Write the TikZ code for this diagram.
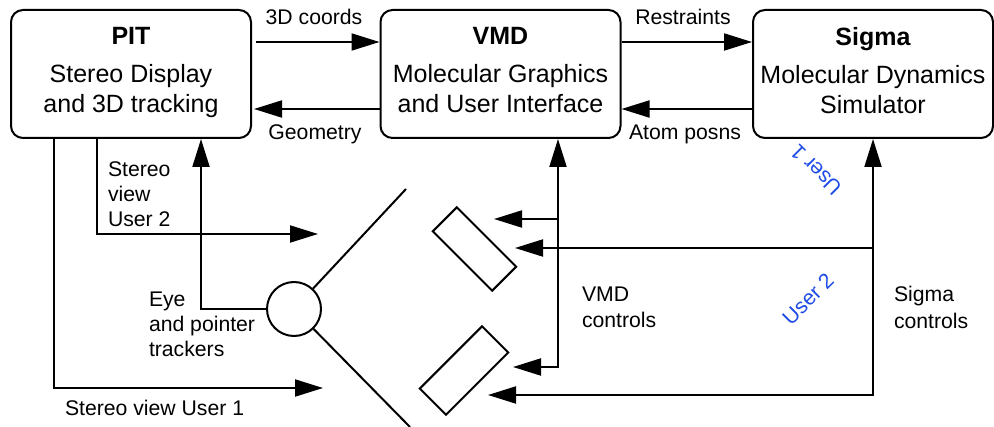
\documentclass[tikz,border=0pt]{standalone}
\usepackage{fontspec}
\setmainfont{Liberation Sans}
\usetikzlibrary{arrows.meta}
\definecolor{userblue}{RGB}{30,75,230}

\begin{document}
\begin{tikzpicture}[x=0.5pt,y=-0.5pt,line width=1pt,
		blk/.style={draw,rounded corners=6pt,minimum width=120pt,minimum height=64pt,inner sep=0pt},
		blktxt/.style={anchor=north,inner sep=0pt,align=center,font=\fontsize{12.5}{15}\selectfont},
		lbl/.style={inner sep=0pt,font=\fontsize{10.6}{12.5}\selectfont},
		usr/.style={inner sep=0pt,text=userblue,font=\fontsize{10.6}{12.5}\selectfont},
		scr/.style={draw,minimum width=42pt,minimum height=17pt,inner sep=0pt},
		arr/.style={-{Triangle[length=14pt,width=8.5pt]}},
		darr/.style={{Triangle[length=14pt,width=8.5pt]}-{Triangle[length=14pt,width=8.5pt]}}]
		\useasboundingbox (0,0) rectangle (994,427);
		
		% 三个模块
		\node[blk] (PIT) at(131,74){};
		\node[blk] (VMD) at(500.5,74){};
		\node[blk] (Sigma) at(873,74){};
		\node[blktxt] (PITtxt) at(131,26){\textbf{PIT}\\[4pt]Stereo Display\\and 3D tracking};
		\node[blktxt] (VMDtxt) at(500.5,26){\textbf{VMD}\\[4pt]Molecular Graphics\\and User Interface};
		\node[blktxt] (Sigmatxt) at(873,26){\textbf{Sigma}\\[4pt]Molecular Dynamics\\Simulator};
		
		% 模块之间的数据
		\draw[arr] ([yshift=16pt,xshift=2pt]PIT.east)--([yshift=16pt]VMD.west);
		\draw[arr] ([yshift=-17.5pt]VMD.west)--([yshift=-17.5pt,xshift=1pt]PIT.east);
		\draw[arr] ([yshift=16pt]VMD.east)--([yshift=16pt]Sigma.west);
		\draw[arr] ([yshift=-17.5pt]Sigma.west)--([yshift=-17.5pt]VMD.east);
		\node[lbl,anchor=base] (lbcoord) at(314,25){3D coords};
		\node[lbl,anchor=base] (lbgeom) at(315,140){Geometry};
		\node[lbl,anchor=base] (lbrest) at(683,25){Restraints};
		\node[lbl,anchor=base] (lbatom) at(685,139.5){Atom posns};
		
		% 跟踪器, 镜面, 两个屏幕
		\node[draw,circle,minimum size=27pt,inner sep=0pt] (eye) at(294,309){};
		\coordinate (mA) at(406,189);
		\coordinate (mB) at(410,427);
		\draw (eye)--(mA);
		\draw (eye)--(mB);
		\node[scr,rotate=-45] (scrA) at(474.5,249){};
		\node[scr,rotate=45,minimum width=44pt,minimum height=18.5pt] (scrB) at(464,370.5){};
		
		% 箭头的自由端
		\coordinate (tS2) at(318,234);
		\coordinate (tS1) at(323,388);
		\coordinate (tA1) at(494,219);
		\coordinate (tA2) at(515,248);
		\coordinate (tB1) at(513,367);
		\coordinate (tB2) at(488,395);
		\coordinate (vc) at([xshift=28.75pt]VMD.south);
		
		% PIT 的输出与输入
		\draw[arr] ([xshift=-38.5pt]PIT.south) |- (tS1);
		\draw[arr] ([xshift=-17pt]PIT.south) |- (tS2);
		\draw[arr] (eye) -| ([xshift=35pt]PIT.south);
		
		% VMD 与 Sigma 的控制
		\draw[darr] (tB1) -| (vc);
		\draw[arr] (vc |- tA1)--(tA1);
		\draw[darr] (tB2) -| (Sigma.south);
		\draw[arr] (Sigma.south |- tA2)--(tA2);
		
		% 标注
		\node[lbl,anchor=north west,align=left] (lbview2) at(107,160.5){Stereo\\view\\User 2};
		\node[lbl,anchor=north west,align=left] (lbeye) at(148,290.5){Eye\\and pointer\\trackers};
		\node[lbl,anchor=base west] (lbview1) at(64,415){Stereo view User 1};
		\node[lbl,anchor=north west,align=left] (lbvmd) at(581,285.5){VMD\\[0.8pt]controls};
		\node[lbl,anchor=north west,align=left] (lbsigma) at(893,285.5){Sigma\\[0.8pt]controls};
		\node[usr,rotate=135] (user1) at(816,170){User 1};
		\node[usr,rotate=45] (user2) at(808,299){User 2};
		
	\end{tikzpicture}
\end{document}
